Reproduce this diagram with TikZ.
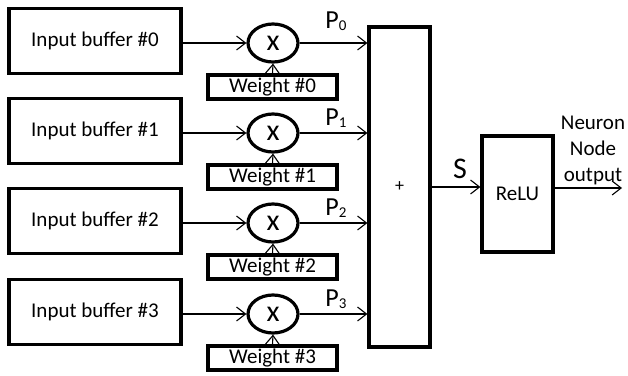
\documentclass[tikz,border=0pt]{standalone}
\usepackage{fontspec}
\setmainfont{Carlito}
\usetikzlibrary{arrows.meta,shapes.geometric}
\begin{document}
\begin{tikzpicture}[x=1pt,y=-1pt,
 box/.style={draw,line width=3.2pt,inner sep=0pt},
 inbox/.style={box,minimum width=172pt,minimum height=65pt,font=\fontsize{21}{24}\selectfont},
 wbox/.style={box,minimum width=129pt,minimum height=24pt,font=\fontsize{21}{24}\selectfont},
 mul/.style={draw,ellipse,line width=3.2pt,minimum width=50pt,minimum height=38pt,inner sep=0pt,font=\fontsize{30}{30}\selectfont},
 arr/.style={line width=1.1pt,-{Straight Barb[length=9pt,width=14pt,line width=1.1pt]}},
 lab/.style={font=\fontsize{26}{26}\selectfont,inner sep=0pt}]
\useasboundingbox (0,0) rectangle (628,375);
\node[box,minimum width=61pt,minimum height=320pt,font=\fontsize{18}{18}\selectfont] (sum) at (399.5,187) {+};
\foreach \k/\y/\py in {0/43/21,1/133/118,2/223/208,3/314/299}{
  \node[inbox] (in\k) at (95,\y-2) {Input buffer \#\k};
  \node[mul] (m\k) at (273,\y) {x};
  \node[wbox] (w\k) at (272.5,\y+44) {Weight \#\k};
  \draw[arr] (in\k.east |- m\k) -- (m\k.west);
  \draw[arr] (w\k.north) -- (m\k.south);
  \draw[arr] (m\k.east) -- (m\k -| sum.west);
  \node[lab] (p\k) at (336,\py) {P{\fontsize{15}{15}\selectfont\raisebox{-1.5pt}{\k}}};
}
\node[box,minimum width=71pt,minimum height=116pt,font=\fontsize{21}{24}\selectfont] (relu) at (517.5,194) {ReLU};
\draw[arr] (sum.east) -- (sum.east -| relu.west);
\node[lab,font=\fontsize{30}{30}\selectfont] (s) at (460,169) {S};
\coordinate (out) at (622,188);
\draw[arr] (relu.east |- out) -- (out);
\node[align=center,inner sep=0pt,font=\fontsize{21}{26}\selectfont] (nout) at (593,150) {Neuron\\Node\\output};
\end{tikzpicture}
\end{document}
